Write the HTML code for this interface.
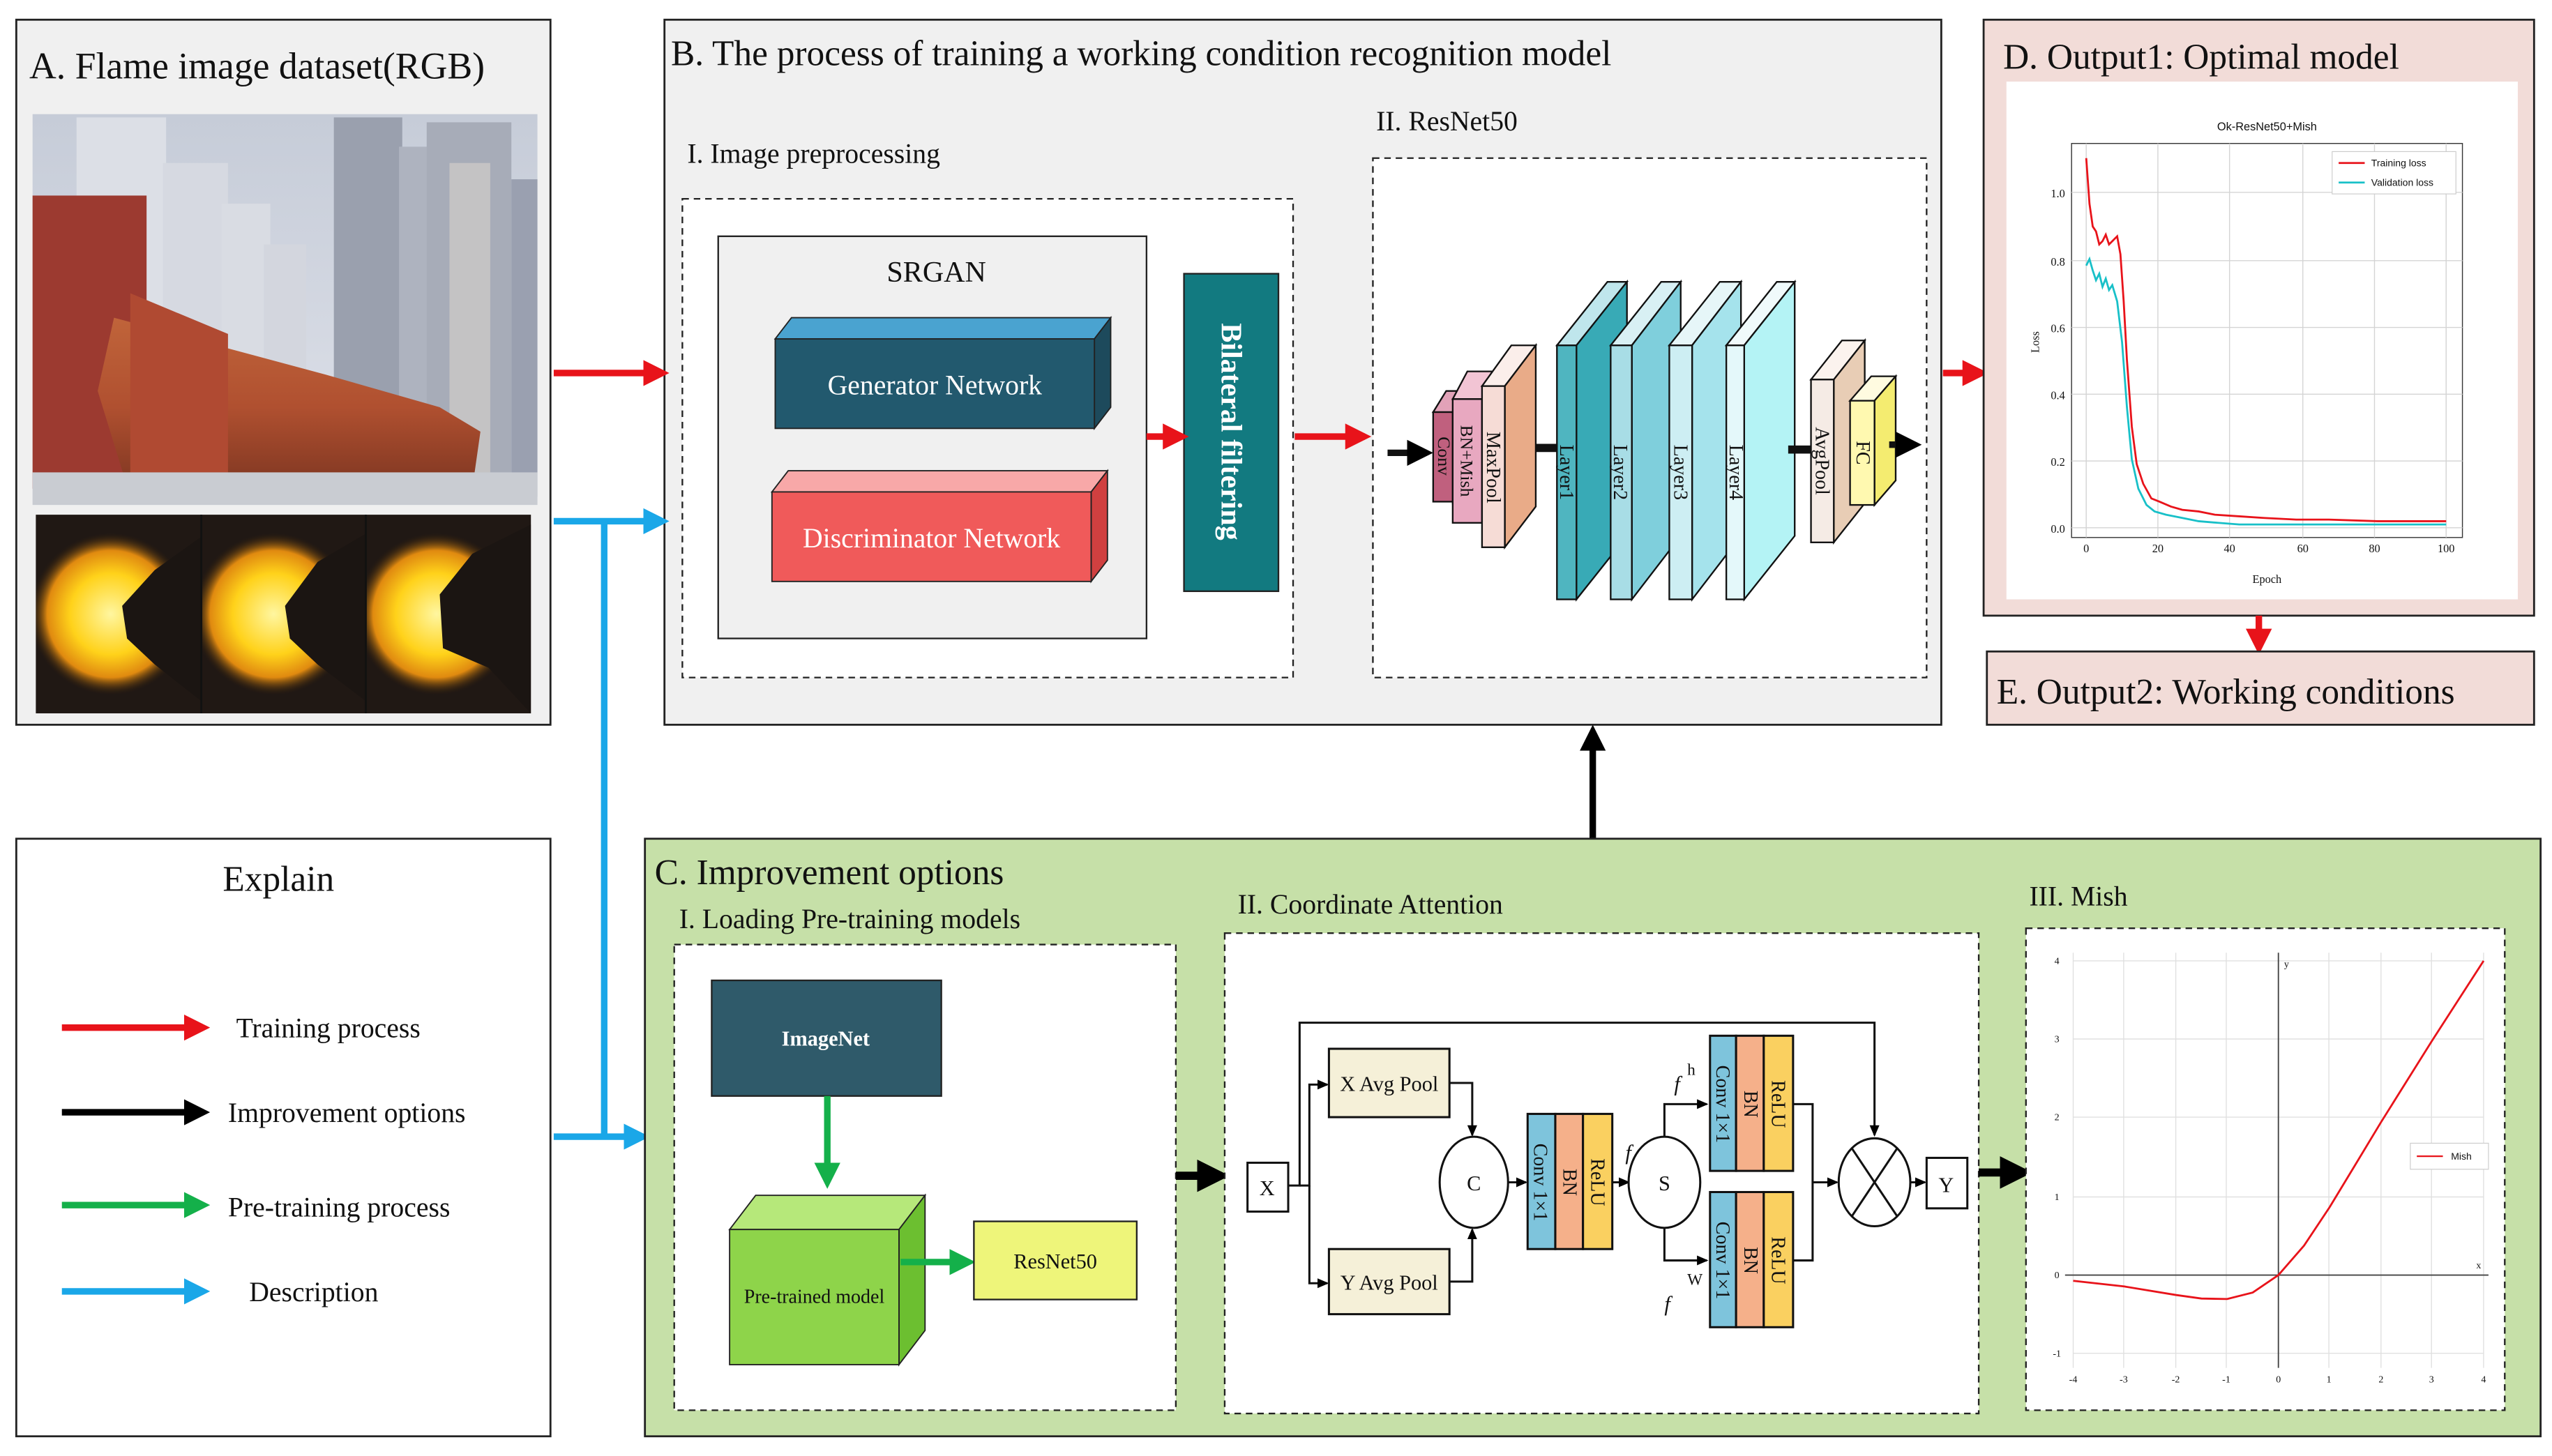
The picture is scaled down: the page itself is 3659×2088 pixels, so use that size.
<!DOCTYPE html>
<html><head><meta charset="utf-8"><style>
html,body{margin:0;padding:0;background:#fff;}
svg{display:block}
text{font-family:"Liberation Serif",serif;fill:#111}
.sans{font-family:"Liberation Sans",sans-serif}
</style></head><body>
<svg width="3659" height="2088" viewBox="0 0 1567 894" xmlns="http://www.w3.org/2000/svg">
<defs>
<marker id="ar" markerWidth="4" markerHeight="4" refX="3" refY="2" orient="auto" markerUnits="strokeWidth"><path d="M0,0 L4,2 L0,4 z" fill="#e8131a"/></marker>
<marker id="ab" markerWidth="4" markerHeight="4" refX="3" refY="2" orient="auto" markerUnits="strokeWidth"><path d="M0,0 L4,2 L0,4 z" fill="#000"/></marker>
<marker id="ag" markerWidth="4" markerHeight="4" refX="3" refY="2" orient="auto" markerUnits="strokeWidth"><path d="M0,0 L4,2 L0,4 z" fill="#14b04a"/></marker>
<marker id="au" markerWidth="4" markerHeight="4" refX="3" refY="2" orient="auto" markerUnits="strokeWidth"><path d="M0,0 L4,2 L0,4 z" fill="#1aa7e8"/></marker>
<marker id="as" markerWidth="8" markerHeight="8" refX="6" refY="4" orient="auto" markerUnits="userSpaceOnUse"><path d="M0,1 L7,4 L0,7 z" fill="#000"/></marker>
<radialGradient id="fl" cx="0.5" cy="0.5" r="0.5"><stop offset="0" stop-color="#fff6a0"/><stop offset="0.5" stop-color="#ffd21a"/><stop offset="0.78" stop-color="#e08a10"/><stop offset="1" stop-color="#2a1a0c" stop-opacity="0"/></radialGradient>
<linearGradient id="sky" x1="0" y1="0" x2="0" y2="1"><stop offset="0" stop-color="#c6ccd8"/><stop offset="1" stop-color="#dfe2ea"/></linearGradient>
<linearGradient id="kiln" x1="0" y1="0" x2="0" y2="1"><stop offset="0" stop-color="#c0643a"/><stop offset="0.5" stop-color="#b05030"/><stop offset="1" stop-color="#7a3420"/></linearGradient>
<clipPath id="c1"><rect x="22" y="316" width="101" height="122"/></clipPath>
<clipPath id="c2"><rect x="124" y="316" width="100" height="122"/></clipPath>
<clipPath id="c3"><rect x="225" y="316" width="101" height="122"/></clipPath>
</defs>

<!-- Panel A -->
<rect x="10" y="12" width="328" height="433" fill="#f0f0f0" stroke="#222" stroke-width="1.2"/>
<text x="18" y="48" font-size="23">A. Flame image dataset(RGB)</text>
<rect x="20" y="70" width="310" height="240" fill="url(#sky)"/>
<rect x="47" y="72" width="55" height="190" fill="#dcdfe6"/>
<rect x="100" y="100" width="40" height="160" fill="#d6d9e1"/>
<rect x="136" y="125" width="30" height="130" fill="#d9dce3"/>
<rect x="162" y="150" width="26" height="100" fill="#d3d6de"/>
<rect x="205" y="72" width="42" height="200" fill="#9aa0ae"/>
<rect x="245" y="90" width="20" height="180" fill="#aeb3bf"/>
<rect x="262" y="75" width="52" height="230" fill="#a7acb8"/>
<rect x="276" y="100" width="25" height="200" fill="#c4c3c4"/>
<rect x="314" y="110" width="16" height="195" fill="#9aa0b0"/>
<rect x="20" y="120" width="70" height="180" fill="#9c3a30"/>
<polygon points="70,195 200,230 270,250 295,265 290,300 80,305 60,240" fill="url(#kiln)"/>
<polygon points="80,180 140,205 140,290 80,290" fill="#b04a32"/>
<rect x="20" y="290" width="310" height="20" fill="#c9ccd2"/>
<rect x="22" y="316" width="304" height="122" fill="#201814"/>
<g clip-path="url(#c1)">
<circle cx="68" cy="377" r="50" fill="url(#fl)"/>
<polygon points="75,372 95,350 123,330 123,430 95,408 78,392" fill="#1b1512"/>
</g>
<g clip-path="url(#c2)">
<circle cx="168" cy="377" r="50" fill="url(#fl)"/>
<polygon points="175,372 195,345 224,328 224,430 195,408 178,392" fill="#1b1512"/>
</g>
<g clip-path="url(#c3)">
<circle cx="268" cy="377" r="50" fill="url(#fl)"/>
<polygon points="270,365 290,340 326,322 326,438 300,410 272,398" fill="#1b1512"/>
</g>
<rect x="123" y="316" width="1.2" height="122" fill="#111"/><rect x="224" y="316" width="1.2" height="122" fill="#111"/>

<!-- Panel B -->
<rect x="408" y="12" width="784" height="433" fill="#f0f0f0" stroke="#222" stroke-width="1.2"/>
<text x="412" y="40" font-size="22">B. The process of training a working condition recognition model</text>
<text x="422" y="100" font-size="17">I. Image preprocessing</text>
<rect x="419" y="122" width="375" height="294" fill="#fff" stroke="#222" stroke-dasharray="4,3"/>
<rect x="441" y="145" width="263" height="247" fill="#f0f0f0" stroke="#222"/>
<text x="575" y="173" font-size="18" text-anchor="middle">SRGAN</text>
<polygon points="476,208 486,195 682,195 672,208" fill="#4aa3d0" stroke="#222" stroke-width="0.8"/>
<polygon points="672,208 682,195 682,250 672,263" fill="#1d4a5c" stroke="#222" stroke-width="0.8"/>
<rect x="476" y="208" width="196" height="55" fill="#22596e" stroke="#222" stroke-width="0.8"/>
<text x="574" y="242" font-size="17" text-anchor="middle" style="fill:#fff">Generator Network</text>
<polygon points="474,302 484,289 680,289 670,302" fill="#f8a8a8" stroke="#222" stroke-width="0.8"/>
<polygon points="670,302 680,289 680,344 670,357" fill="#d04040" stroke="#222" stroke-width="0.8"/>
<rect x="474" y="302" width="196" height="55" fill="#f05a5a" stroke="#222" stroke-width="0.8"/>
<text x="572" y="336" font-size="17" text-anchor="middle" style="fill:#fff">Discriminator Network</text>
<rect x="727" y="168" width="58" height="195" fill="#127a80" stroke="#222"/>
<text transform="translate(750,265) rotate(90)" font-size="18" font-weight="bold" text-anchor="middle" style="fill:#fff">Bilateral filtering</text>
<line x1="704" y1="268" x2="726" y2="268" stroke="#e8131a" stroke-width="4" marker-end="url(#ar)"/>
<line x1="795" y1="268" x2="838" y2="268" stroke="#e8131a" stroke-width="4" marker-end="url(#ar)"/>
<line x1="340" y1="229" x2="407" y2="229" stroke="#e8131a" stroke-width="4" marker-end="url(#ar)"/>
<line x1="1193" y1="229" x2="1217" y2="229" stroke="#e8131a" stroke-width="4" marker-end="url(#ar)"/>

<text x="845" y="80" font-size="17">II. ResNet50</text>
<rect x="843" y="97" width="340" height="319" fill="#fff" stroke="#222" stroke-dasharray="4,3"/>
<g stroke="#111" stroke-width="1">
<line x1="852" y1="278" x2="876" y2="278" stroke-width="4" marker-end="url(#ab)"/>
<polygon points="880,253 888,240 900,240 892,253" fill="#e2a2b8"/><polygon points="892,253 900,240 900,295 892,308" fill="#b04a70"/><rect x="880" y="253" width="12" height="55" fill="#c0607e"/>
<polygon points="892,245 901,228 919,228 910,245" fill="#f2c4d4"/><polygon points="910,245 919,228 919,304 910,321" fill="#e0a0b8"/><rect x="892" y="245" width="18" height="76" fill="#e8a8c0"/>
<polygon points="910,237 928,212 943,212 924,237" fill="#fbeeea"/><polygon points="924,237 943,212 943,311 924,336" fill="#e9ab88"/><rect x="910" y="237" width="14" height="99" fill="#f6dcd6"/>
<line x1="943" y1="275" x2="956" y2="275" stroke-width="5"/>
<polygon points="956,212 987,173 999,173 968,212" fill="#bfe6ec"/><polygon points="968,212 999,173 999,329 968,368" fill="#38aab6"/><rect x="956" y="212" width="12" height="156" fill="#4fb5c0"/>
<polygon points="989,212 1020,173 1032,173 1002,212" fill="#d8f0f4"/><polygon points="1002,212 1032,173 1032,329 1002,368" fill="#7fcfdc"/><rect x="989" y="212" width="13" height="156" fill="#a8dde6"/>
<polygon points="1025,212 1056,173 1069,173 1039,212" fill="#e6f6f8"/><polygon points="1039,212 1069,173 1069,329 1039,368" fill="#a5e3ec"/><rect x="1025" y="212" width="14" height="156" fill="#cdeef3"/>
<polygon points="1060,212 1091,173 1102,173 1071,212" fill="#f0fafb"/><polygon points="1071,212 1102,173 1102,329 1071,368" fill="#b4f3f5"/><rect x="1060" y="212" width="11" height="156" fill="#e4f8fa"/>
<line x1="1098" y1="276" x2="1112" y2="276" stroke-width="5"/>
<polygon points="1112,233 1131,209 1145,209 1126,233" fill="#fbf3ee"/><polygon points="1126,233 1145,209 1145,309 1126,333" fill="#e8cdb5"/><rect x="1112" y="233" width="14" height="100" fill="#f5ebe5"/>
<polygon points="1136,246 1149,231 1164,231 1151,246" fill="#fffbe0"/><polygon points="1151,246 1164,231 1164,295 1151,310" fill="#f4ec70"/><rect x="1136" y="246" width="15" height="64" fill="#fff9b0"/>
<line x1="1160" y1="273" x2="1176" y2="273" stroke-width="4" marker-end="url(#ab)"/>
</g>
<g font-size="12" style="fill:#333">
<text transform="translate(883,280) rotate(90)" text-anchor="middle" font-size="11">Conv</text>
<text transform="translate(897,283) rotate(90)" text-anchor="middle" font-size="11">BN+Mish</text>
<text transform="translate(913,287) rotate(90)" text-anchor="middle">MaxPool</text>
<text transform="translate(958,290) rotate(90)" text-anchor="middle">Layer1</text>
<text transform="translate(991,290) rotate(90)" text-anchor="middle">Layer2</text>
<text transform="translate(1028,290) rotate(90)" text-anchor="middle">Layer3</text>
<text transform="translate(1062,290) rotate(90)" text-anchor="middle">Layer4</text>
<text transform="translate(1115,283) rotate(90)" text-anchor="middle">AvgPool</text>
<text transform="translate(1140,278) rotate(90)" text-anchor="middle">FC</text>
</g>

<!-- Panel D -->
<rect x="1218" y="12" width="338" height="366" fill="#f2dcd8" stroke="#222" stroke-width="1.2"/>
<text x="1230" y="42" font-size="22">D. Output1: Optimal model</text>
<rect x="1232" y="50" width="314" height="318" fill="#fff"/>
<text x="1392" y="80" font-size="7" text-anchor="middle" class="sans">Ok-ResNet50+Mish</text>
<rect x="1272" y="88" width="240" height="242" fill="#fff" stroke="#333" stroke-width="0.6"/>
<g stroke="#d4d4d4" stroke-width="0.6">
<line x1="1272" y1="118" x2="1512" y2="118"/><line x1="1272" y1="160" x2="1512" y2="160"/><line x1="1272" y1="201" x2="1512" y2="201"/><line x1="1272" y1="242" x2="1512" y2="242"/><line x1="1272" y1="283" x2="1512" y2="283"/><line x1="1272" y1="324" x2="1512" y2="324"/>
<line x1="1281" y1="88" x2="1281" y2="330"/><line x1="1325" y1="88" x2="1325" y2="330"/><line x1="1369" y1="88" x2="1369" y2="330"/><line x1="1414" y1="88" x2="1414" y2="330"/><line x1="1458" y1="88" x2="1458" y2="330"/><line x1="1502" y1="88" x2="1502" y2="330"/>
</g>
<g font-size="7" class="sans" text-anchor="end">
<text x="1268" y="121">1.0</text><text x="1268" y="163">0.8</text><text x="1268" y="204">0.6</text><text x="1268" y="245">0.4</text><text x="1268" y="286">0.2</text><text x="1268" y="327">0.0</text>
</g>
<g font-size="7" class="sans" text-anchor="middle">
<text x="1281" y="339">0</text><text x="1325" y="339">20</text><text x="1369" y="339">40</text><text x="1414" y="339">60</text><text x="1458" y="339">80</text><text x="1502" y="339">100</text>
<text x="1392" y="358">Epoch</text>
<text transform="translate(1252,210) rotate(-90)">Loss</text>
</g>
<polyline fill="none" stroke="#18c0c8" stroke-width="1.2" points="1281,163 1283,159 1285,166 1287,172 1289,168 1291,176 1293,171 1295,178 1297,175 1300,185 1303,210 1306,250 1309,282 1313,300 1318,310 1323,314 1330,316 1340,318 1350,320 1362,321 1375,322 1390,322 1410,322 1430,322 1460,322 1480,322 1502,322"/>
<polyline fill="none" stroke="#e8131a" stroke-width="1.2" points="1281,97 1283,125 1285,139 1287,142 1289,150 1291,148 1293,144 1295,150 1297,148 1300,145 1302,156 1304,185 1306,221 1309,262 1312,285 1316,297 1321,306 1326,308 1333,311 1340,313 1350,314 1360,316 1375,317 1390,318 1410,319 1430,319 1460,320 1480,320 1502,320"/>
<rect x="1432" y="93" width="76" height="26" fill="#fff" stroke="#ccc" stroke-width="0.5"/>
<line x1="1436" y1="100" x2="1452" y2="100" stroke="#e8131a" stroke-width="1.2"/><text x="1456" y="102" font-size="6" class="sans">Training loss</text>
<line x1="1436" y1="112" x2="1452" y2="112" stroke="#18c0c8" stroke-width="1.2"/><text x="1456" y="114" font-size="6" class="sans">Validation loss</text>

<line x1="1387" y1="378" x2="1387" y2="398" stroke="#e8131a" stroke-width="4" marker-end="url(#ar)"/>
<rect x="1220" y="400" width="336" height="45" fill="#f2dcd8" stroke="#222" stroke-width="1.2"/>
<text x="1226" y="432" font-size="22">E. Output2: Working conditions</text>

<line x1="978" y1="515" x2="978" y2="449" stroke="#000" stroke-width="4" marker-end="url(#ab)"/>

<!-- Explain -->
<rect x="10" y="515" width="328" height="367" fill="#fff" stroke="#222" stroke-width="1.2"/>
<text x="171" y="547" font-size="22" text-anchor="middle">Explain</text>
<line x1="38" y1="631" x2="125" y2="631" stroke="#e8131a" stroke-width="4" marker-end="url(#ar)"/>
<line x1="38" y1="683" x2="125" y2="683" stroke="#000" stroke-width="4" marker-end="url(#ab)"/>
<line x1="38" y1="740" x2="125" y2="740" stroke="#14b04a" stroke-width="4" marker-end="url(#ag)"/>
<line x1="38" y1="793" x2="125" y2="793" stroke="#1aa7e8" stroke-width="4" marker-end="url(#au)"/>
<text x="145" y="637" font-size="17">Training process</text>
<text x="140" y="689" font-size="17">Improvement options</text>
<text x="140" y="747" font-size="17">Pre-training process</text>
<text x="153" y="799" font-size="17">Description</text>

<line x1="340" y1="320" x2="407" y2="320" stroke="#1aa7e8" stroke-width="4" marker-end="url(#au)"/>
<line x1="371" y1="320" x2="371" y2="698" stroke="#1aa7e8" stroke-width="4"/>
<line x1="340" y1="698" x2="395" y2="698" stroke="#1aa7e8" stroke-width="4" marker-end="url(#au)"/>

<!-- Panel C -->
<rect x="396" y="515" width="1164" height="367" fill="#c6e0a8" stroke="#222" stroke-width="1.2"/>
<text x="402" y="543" font-size="22">C. Improvement options</text>
<text x="417" y="570" font-size="17">I. Loading Pre-training models</text>
<rect x="414" y="580" width="308" height="286" fill="#fff" stroke="#222" stroke-dasharray="4,3"/>
<rect x="437" y="602" width="141" height="71" fill="#2f5a6a" stroke="#222"/>
<text x="507" y="642" font-size="13" font-weight="bold" text-anchor="middle" style="fill:#fff">ImageNet</text>
<line x1="508" y1="673" x2="508" y2="726" stroke="#14b04a" stroke-width="4" marker-end="url(#ag)"/>
<polygon points="448,755 464,734 568,734 552,755" fill="#b6e87a" stroke="#222" stroke-width="0.8"/>
<polygon points="552,755 568,734 568,817 552,838" fill="#6cbf30" stroke="#222" stroke-width="0.8"/>
<rect x="448" y="755" width="104" height="83" fill="#8ed44a" stroke="#222" stroke-width="0.8"/>
<text x="500" y="800" font-size="12" text-anchor="middle">Pre-trained model</text>
<line x1="553" y1="775" x2="595" y2="775" stroke="#14b04a" stroke-width="4" marker-end="url(#ag)"/>
<rect x="598" y="750" width="100" height="48" fill="#eef57a" stroke="#222"/>
<text x="648" y="779" font-size="13" text-anchor="middle">ResNet50</text>
<line x1="722" y1="722" x2="750" y2="722" stroke="#000" stroke-width="5" marker-end="url(#ab)"/>

<text x="760" y="561" font-size="17">II. Coordinate Attention</text>
<rect x="752" y="573" width="463" height="295" fill="#fff" stroke="#222" stroke-dasharray="4,3"/>
<g stroke="#111" stroke-width="1.3" fill="none">
<rect x="766" y="714" width="25" height="30" fill="#fff"/>
<polyline points="791,728 798,728 798,628 1151,628 1151,697" marker-end="url(#as)"/>
<polyline points="798,728 804,728 804,666 815,666" marker-end="url(#as)"/>
<polyline points="804,728 804,788 815,788" marker-end="url(#as)"/>
<rect x="816" y="644" width="74" height="42" fill="#f5f0d8"/>
<rect x="816" y="767" width="74" height="40" fill="#f5f0d8"/>
<polyline points="890,665 904,665 904,697" marker-end="url(#as)"/>
<polyline points="890,787 904,787 904,755" marker-end="url(#as)"/>
<ellipse cx="905" cy="726" rx="21" ry="28" fill="#fff"/>
<line x1="926" y1="726" x2="937" y2="726" marker-end="url(#as)"/>
<rect x="938" y="684" width="17" height="83" fill="#7ec4dc"/><rect x="955" y="684" width="17" height="83" fill="#f5b08a"/><rect x="972" y="684" width="18" height="83" fill="#fad060"/>
<line x1="990" y1="726" x2="1000" y2="726" marker-end="url(#as)"/>
<ellipse cx="1022" cy="726" rx="22" ry="28" fill="#fff"/>
<polyline points="1022,698 1022,678 1048,678" marker-end="url(#as)"/>
<polyline points="1022,754 1022,774 1048,774" marker-end="url(#as)"/>
<rect x="1050" y="636" width="16" height="83" fill="#7ec4dc"/><rect x="1066" y="636" width="17" height="83" fill="#f5b08a"/><rect x="1083" y="636" width="18" height="83" fill="#fad060"/>
<rect x="1050" y="732" width="16" height="83" fill="#7ec4dc"/><rect x="1066" y="732" width="17" height="83" fill="#f5b08a"/><rect x="1083" y="732" width="18" height="83" fill="#fad060"/>
<polyline points="1101,678 1113,678 1113,774 1101,774"/>
<line x1="1113" y1="726" x2="1128" y2="726" marker-end="url(#as)"/>
<ellipse cx="1151" cy="726" rx="22" ry="27" fill="#fff"/>
<line x1="1137" y1="705" x2="1165" y2="747"/><line x1="1165" y1="705" x2="1137" y2="747"/>
<line x1="1173" y1="726" x2="1182" y2="726" marker-end="url(#as)"/>
<rect x="1183" y="711" width="25" height="31" fill="#fff"/>
</g>
<g font-size="13">
<text x="778" y="734" text-anchor="middle">X</text>
<text x="1195" y="732" text-anchor="middle">Y</text>
<text x="853" y="670" text-anchor="middle">X Avg Pool</text>
<text x="853" y="792" text-anchor="middle">Y Avg Pool</text>
<text x="905" y="731" text-anchor="middle">C</text>
<text x="1022" y="731" text-anchor="middle">S</text>
<text x="998" y="712" font-style="italic">f</text>
<text x="1028" y="670" font-style="italic">f</text><text x="1036" y="660" font-size="10">h</text>
<text x="1022" y="805" font-style="italic">f</text><text x="1036" y="789" font-size="10">W</text>
</g>
<g font-size="12" class="sans" style="fill:#222">
<text transform="translate(942,726) rotate(90)" text-anchor="middle">Conv 1×1</text>
<text transform="translate(960,726) rotate(90)" text-anchor="middle">BN</text>
<text transform="translate(977,726) rotate(90)" text-anchor="middle">ReLU</text>
<text transform="translate(1054,678) rotate(90)" text-anchor="middle">Conv 1×1</text>
<text transform="translate(1071,678) rotate(90)" text-anchor="middle">BN</text>
<text transform="translate(1088,678) rotate(90)" text-anchor="middle">ReLU</text>
<text transform="translate(1054,774) rotate(90)" text-anchor="middle">Conv 1×1</text>
<text transform="translate(1071,774) rotate(90)" text-anchor="middle">BN</text>
<text transform="translate(1088,774) rotate(90)" text-anchor="middle">ReLU</text>
</g>
<line x1="1215" y1="720" x2="1243" y2="720" stroke="#000" stroke-width="5" marker-end="url(#ab)"/>

<text x="1246" y="556" font-size="17">III. Mish</text>
<rect x="1244" y="570" width="294" height="296" fill="#fff" stroke="#222" stroke-dasharray="4,3"/>
<g stroke="#e0e0e0" stroke-width="0.6">
<line x1="1273" y1="590" x2="1525" y2="590"/><line x1="1273" y1="638" x2="1525" y2="638"/><line x1="1273" y1="686" x2="1525" y2="686"/><line x1="1273" y1="735" x2="1525" y2="735"/><line x1="1273" y1="831" x2="1525" y2="831"/>
<line x1="1273" y1="585" x2="1273" y2="840"/><line x1="1304" y1="585" x2="1304" y2="840"/><line x1="1336" y1="585" x2="1336" y2="840"/><line x1="1367" y1="585" x2="1367" y2="840"/><line x1="1430" y1="585" x2="1430" y2="840"/><line x1="1462" y1="585" x2="1462" y2="840"/><line x1="1493" y1="585" x2="1493" y2="840"/><line x1="1525" y1="585" x2="1525" y2="840"/>
</g>
<line x1="1399" y1="585" x2="1399" y2="840" stroke="#444" stroke-width="0.8"/>
<line x1="1268" y1="783" x2="1528" y2="783" stroke="#444" stroke-width="0.8"/>
<g font-size="6" class="sans" style="fill:#444" text-anchor="middle">
<text x="1273" y="849">-4</text><text x="1304" y="849">-3</text><text x="1336" y="849">-2</text><text x="1367" y="849">-1</text><text x="1399" y="849">0</text><text x="1430" y="849">1</text><text x="1462" y="849">2</text><text x="1493" y="849">3</text><text x="1525" y="849">4</text>
<text x="1263" y="592">4</text><text x="1263" y="640">3</text><text x="1263" y="688">2</text><text x="1263" y="737">1</text><text x="1263" y="785">0</text><text x="1263" y="833">-1</text>
<text x="1404" y="594">y</text><text x="1522" y="779">x</text>
</g>
<polyline fill="none" stroke="#e8131a" stroke-width="1.2" points="1273,786.5 1304.5,790 1336,795.2 1351.75,797.4 1367.5,797.7 1383.25,793.7 1399,783 1414.75,764.9 1430.5,741.2 1446.25,715.2 1462,689.1 1493.5,638.8 1525,590"/>
<rect x="1480" y="702" width="48" height="16" fill="#fff" stroke="#ccc" stroke-width="0.5"/>
<line x1="1484" y1="710" x2="1500" y2="710" stroke="#e8131a" stroke-width="1"/><text x="1505" y="712" font-size="6" class="sans">Mish</text>
</svg>
</body></html>
